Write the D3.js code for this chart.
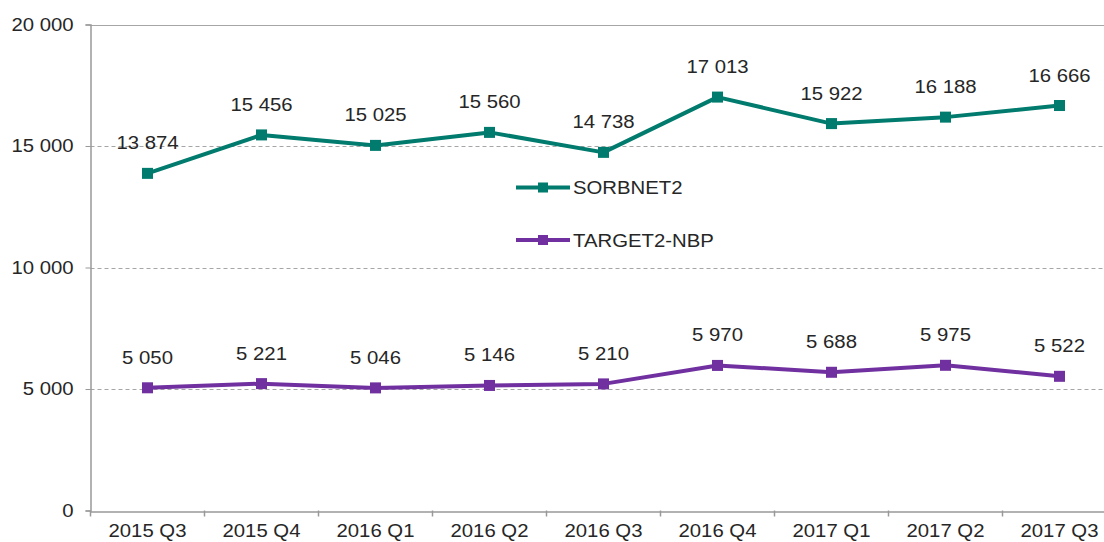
<!DOCTYPE html>
<html>
<head>
<meta charset="utf-8">
<script src="https://cdn.jsdelivr.net/npm/d3@7"></script>
<style>
  body { margin: 0; background: #fff; }
  text { font-family: "Liberation Sans", Arial, sans-serif; fill: #262626; }
</style>
</head>
<body>
<div id="chart"></div>
<script>
// categories and series
var quarters = ["2015 Q3", "2015 Q4", "2016 Q1", "2016 Q2", "2016 Q3", "2016 Q4", "2017 Q1", "2017 Q2", "2017 Q3"];
var sorbnet = [13874, 15456, 15025, 15560, 14738, 17013, 15922, 16188, 16666];
var target = [5050, 5221, 5046, 5146, 5210, 5970, 5688, 5975, 5522];
var yTicks = [0, 5000, 10000, 15000, 20000];

var svgWidth = 1104, svgHeight = 542;
var margin = { top: 24.5, left: 90.5, bottom: 31.5 };
var fontSize = "18px";
var stretch = "scale(1.13,1)"; // source text is slightly wide

var svg = d3.select("#chart").append("svg")
  .attr("width", svgWidth)
  .attr("height", svgHeight);

var x = d3.scaleBand()
  .domain(quarters)
  .range([margin.left, margin.left + 114 * quarters.length]);

var y = d3.scaleLinear()
  .domain([0, 20000])
  .range([svgHeight - margin.bottom, margin.top]);

var fmt = function(v) { return d3.format(",")(v).replace(/,/g, " "); };
var cx = function(d, i) { return x(quarters[i]) + x.bandwidth() / 2; };

// gridlines
svg.append("g").selectAll("line")
  .data(yTicks.filter(t => t > 0))
  .enter().append("line")
  .attr("x1", margin.left)
  .attr("x2", svgWidth)
  .attr("y1", d => Math.round(y(d)) + 0.5)
  .attr("y2", d => Math.round(y(d)) + 0.5)
  .attr("stroke", "#a6a6a6")
  .attr("stroke-width", 1)
  .attr("stroke-dasharray", d => d === 20000 ? null : "4,3");

// y axis
var yAxis = svg.append("g")
  .attr("transform", `translate(${margin.left},0)`)
  .call(d3.axisLeft(y).tickValues(yTicks).tickSize(5).tickPadding(10).tickFormat(fmt));
yAxis.select(".domain").attr("stroke", "#999").attr("stroke-width", 1.5);
yAxis.selectAll(".tick line").attr("stroke", "#999");
yAxis.selectAll("text")
  .style("font-size", fontSize)
  .attr("fill", "#262626")
  .attr("transform", stretch);

// x axis
var xAxis = svg.append("g")
  .attr("transform", `translate(0,${Math.round(y(0)) + 0.5})`)
  .call(d3.axisBottom(x).tickSize(0).tickPadding(13));
xAxis.select(".domain").attr("stroke", "#999").attr("stroke-width", 1.5);
xAxis.selectAll("text")
  .style("font-size", fontSize)
  .attr("fill", "#262626")
  .attr("transform", stretch);

// category boundary ticks
svg.append("g").selectAll("line")
  .data(quarters)
  .enter().append("line")
  .attr("x1", d => x(d))
  .attr("x2", d => x(d))
  .attr("y1", y(0))
  .attr("y2", y(0) + 6)
  .attr("stroke", "#999")
  .attr("stroke-width", 1.5);

var series = [
  { name: "SORBNET2", values: sorbnet, color: "#007b6d" },
  { name: "TARGET2-NBP", values: target, color: "#7030a0" }
];

series.forEach(function(s) {
  var line = d3.line()
    .x((d, i) => cx(d, i))
    .y(d => y(d));

  svg.append("path")
    .datum(s.values)
    .attr("d", line)
    .attr("fill", "none")
    .attr("stroke", s.color)
    .attr("stroke-width", 4)
    .attr("stroke-linejoin", "round");

  svg.append("g").selectAll("rect")
    .data(s.values)
    .enter().append("rect")
    .attr("x", (d, i) => cx(d, i) - 5.5)
    .attr("y", d => y(d) - 5.5)
    .attr("width", 11)
    .attr("height", 11)
    .attr("fill", s.color);

  svg.append("g").selectAll("g")
    .data(s.values)
    .enter().append("g")
    .attr("transform", (d, i) => `translate(${cx(d, i)},${y(d) - 24})`)
    .append("text")
    .attr("text-anchor", "middle")
    .attr("transform", stretch)
    .style("font-size", fontSize)
    .text(fmt);
});

// legend
var legend = svg.append("g").attr("transform", "translate(516,187.5)");
series.forEach(function(s, i) {
  var g = legend.append("g").attr("transform", `translate(0,${i * 52.5})`);
  g.append("line")
    .attr("x1", 0).attr("x2", 54)
    .attr("y1", 0).attr("y2", 0)
    .attr("stroke", s.color)
    .attr("stroke-width", 4);
  g.append("rect")
    .attr("x", 22).attr("y", -5)
    .attr("width", 10).attr("height", 10)
    .attr("fill", s.color);
  g.append("text")
    .attr("transform", "translate(57,6.5) " + stretch)
    .style("font-size", fontSize)
    .text(s.name);
});
</script>
</body>
</html>
